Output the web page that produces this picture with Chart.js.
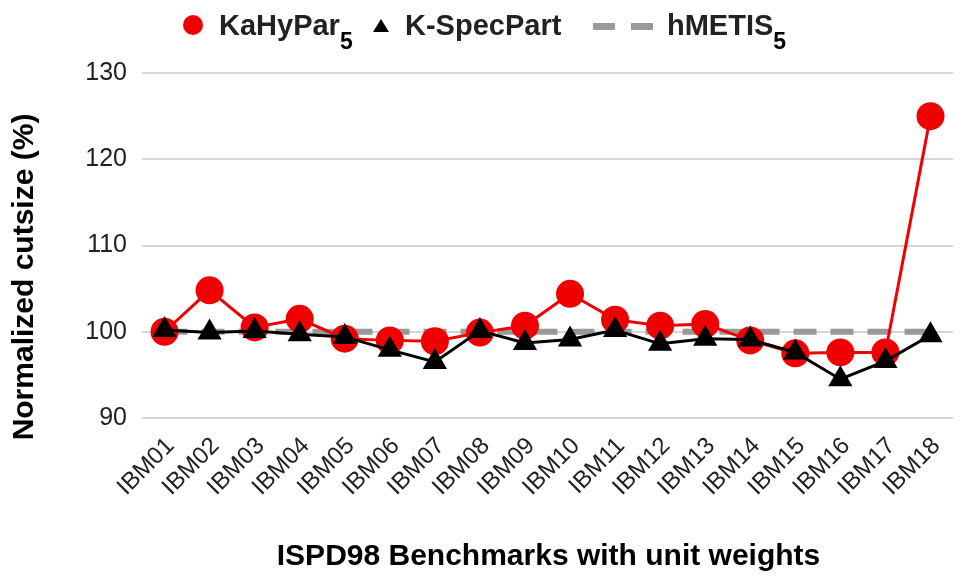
<!DOCTYPE html>
<html>
<head>
<meta charset="utf-8">
<script src="https://cdn.jsdelivr.net/npm/chart.js@4.4.0/dist/chart.umd.min.js"></script>
<style>
html,body{margin:0;padding:0;background:#fff;}
#wrap{position:relative;width:972px;height:580px;}
#legend{position:absolute;top:0;left:0;width:972px;height:60px;font-family:"Liberation Sans",Arial,sans-serif;font-weight:bold;font-size:29px;line-height:29px;color:#222;white-space:nowrap;}
#legend .txt{position:absolute;top:11px;}
#legend sub{font-size:23px;line-height:23px;vertical-align:-14px;color:#000;}
.dot{position:absolute;left:183px;top:15px;width:20px;height:20px;border-radius:50%;background:#f00000;}
.tri{position:absolute;left:373px;top:19px;width:0;height:0;border-left:8px solid transparent;border-right:8px solid transparent;border-bottom:13px solid #000;}
.dash{position:absolute;top:23px;width:22px;height:7px;background:#999;}
</style>
</head>
<body>
<div id="wrap">
<canvas id="chart" width="972" height="580"></canvas>
<div id="legend">
<span class="dot"></span><span class="txt" style="left:219px">KaHyPar<sub>5</sub></span>
<span class="tri"></span><span class="txt" style="left:405px">K-SpecPart</span>
<span class="dash" style="left:593px"></span><span class="dash" style="left:631px"></span><span class="txt" style="left:667px">hMETIS<sub>5</sub></span>
</div>
</div>
<script>
const labels=["IBM01","IBM02","IBM03","IBM04","IBM05","IBM06","IBM07","IBM08","IBM09","IBM10","IBM11","IBM12","IBM13","IBM14","IBM15","IBM16","IBM17","IBM18"];
const kahypar=[100,104.8,100.5,101.5,99.2,99.0,98.9,99.9,100.7,104.4,101.4,100.7,100.9,99.0,97.5,97.6,97.6,125];
const kspecpart=[100.2,99.9,100.1,99.7,99.4,97.9,96.5,100.1,98.7,99.1,100.2,98.6,99.2,99.1,97.6,94.5,96.6,99.6];
const hmetis=[100,100,100,100,100,100,100,100,100,100,100,100,100,100,100,100,100,100];
const yTicks=[90,100,110,120,130];
const xTitle="ISPD98 Benchmarks with unit weights";
const yTitle="Normalized cutsize (%)";

const font="'Liberation Sans', Arial, sans-serif";

// axis titles drawn by hand so they sit where the original has them
const titles={
id:"titles",
afterDraw(chart){
const ctx=chart.ctx;
const a=chart.chartArea;
ctx.save();
ctx.fillStyle="#000";
ctx.font="bold 30px "+font;
ctx.textAlign="center";
ctx.textBaseline="alphabetic";
ctx.fillText(xTitle,(a.left+a.right)/2+1,565);
ctx.translate(33,277);
ctx.rotate(-Math.PI/2);
ctx.fillText(yTitle,0,0);
ctx.restore();
}
};

new Chart(document.getElementById("chart"),{
type:"line",
data:{
labels:labels,
datasets:[
{
label:"K-SpecPart",
data:kspecpart,
borderColor:"#000",
backgroundColor:"#000",
borderWidth:3,
pointStyle:"triangle",
pointRadius:14,
pointBorderWidth:0,
tension:0,
order:0
},
{
label:"KaHyPar5",
data:kahypar,
borderColor:"#f00000",
backgroundColor:"#f00000",
borderWidth:3,
pointStyle:"circle",
pointRadius:14,
pointBorderWidth:0,
tension:0,
order:1
},
{
label:"hMETIS5",
data:hmetis,
borderColor:"#999",
borderWidth:6,
borderDash:[23,14],
pointRadius:0,
tension:0,
order:2
}
]
},
options:{
responsive:false,
animation:false,
layout:{padding:{top:73,right:19,left:0,bottom:0}},
plugins:{legend:{display:false},tooltip:{enabled:false}},
scales:{
x:{
offset:true,
grid:{display:false},
border:{display:false},
ticks:{
color:"#222",
font:{family:font,size:24},
maxRotation:45,
minRotation:45,
autoSkip:false,
labelOffset:6,
padding:6
},
afterFit:function(s){s.height=162;}
},
y:{
min:90,
max:130,
afterBuildTicks:function(s){s.ticks=yTicks.map(v=>({value:v}));},
grid:{color:"#d6d6d6",lineWidth:2,drawTicks:false},
border:{display:false},
ticks:{
color:"#222",
font:{family:font,size:25},
padding:15
},
afterFit:function(s){s.width=142;}
}
}
},
plugins:[titles]
});
</script>
</body>
</html>
